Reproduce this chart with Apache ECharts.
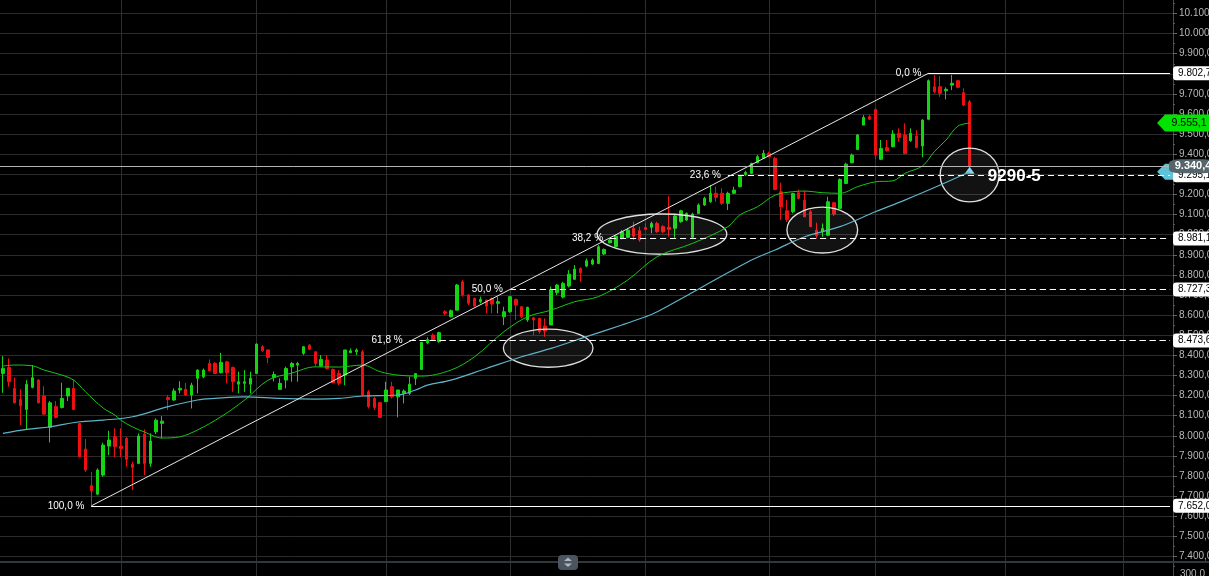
<!DOCTYPE html>
<html><head><meta charset="utf-8">
<script src="https://cdn.jsdelivr.net/npm/echarts/dist/echarts.min.js"></script>
<style>html,body{margin:0;padding:0;background:#000;overflow:hidden}#c{width:1209px;height:576px;}</style>
</head><body><div id="c"></div>
<script>
// ---------------- DATA ----------------
const slotCount = 199; // daily slots on the time axis (incl. empty future)
const categories = Array.from({length: slotCount}, (_, i) => 'D' + (i + 1));

// [open, close, low, high]
const ohlc = [
[8310,8335,8214,8396],[8340,8269,8244,8385],[8236,8164,8161,8290],[8181,8149,8053,8231],[8131,8256,8032,8277],
[8241,8289,8236,8352],[8277,8164,8161,8282],[8198,8108,8103,8247],[8042,8164,7967,8173],[8145,8092,8087,8173],
[8141,8186,8136,8264],[8198,8236,8173,8239],[8236,8131,8128,8280],[8062,7896,7893,8065],[7934,7830,7821,7984],
[7752,7727,7652,7821],[7710,7830,7705,7838],[7805,7954,7797,7966],[7949,7979,7904,8025],[7995,7946,7893,8037],
[7949,7937,7893,8037],[7987,7883,7846,7995],[7859,7843,7730,7871],[7863,7999,7859,8012],[8009,7863,7805,8032],
[7863,7974,7846,8012],[8020,8078,8009,8087],[8062,8073,7987,8098],[8191,8181,8128,8203],[8178,8223,8174,8236],
[8228,8236,8211,8272],[8231,8203,8198,8264],[8203,8252,8136,8264],[8286,8327,8211,8330],[8294,8327,8286,8335],
[8360,8324,8319,8380],[8360,8310,8307,8368],[8314,8365,8310,8413],[8368,8314,8261,8373],[8340,8269,8219,8344],
[8257,8269,8211,8319],[8261,8269,8219,8327],[8257,8286,8211,8319],[8310,8456,8310,8460],[8443,8423,8418,8451],
[8427,8390,8360,8430],[8290,8305,8270,8320],[8231,8261,8228,8286],[8277,8335,8236,8344],[8344,8360,8269,8368],
[8352,8360,8269,8368],[8410,8443,8402,8446],[8451,8430,8427,8456],[8418,8360,8344,8418],[8347,8380,8344,8402],
[8377,8335,8330,8402],[8330,8264,8261,8335],[8310,8261,8252,8327],[8302,8427,8252,8427],[8413,8423,8413,8435],
[8418,8427,8402,8435],[8418,8203,8194,8427],[8219,8145,8136,8228],[8186,8141,8128,8194],[8165,8092,8087,8170],
[8170,8228,8170,8269],[8244,8194,8186,8269],[8194,8228,8092,8228],[8211,8223,8161,8231],[8211,8257,8203,8294],
[8286,8310,8252,8310],[8330,8465,8327,8468],[8462,8478,8455,8490],[8501,8476,8473,8509],[8468,8513,8463,8518],
[8617,8609,8600,8625],[8592,8622,8589,8628],[8625,8750,8625,8755],[8766,8700,8692,8775],[8700,8659,8650,8705],
[8683,8645,8642,8688],[8667,8678,8659,8692],[8675,8645,8609,8678],[8683,8655,8609,8688],[8659,8667,8609,8692],
[8592,8617,8551,8642],[8617,8692,8612,8695],[8678,8650,8576,8683],[8642,8592,8584,8645],[8576,8639,8567,8642],
[8587,8576,8501,8592],[8584,8518,8509,8587],[8546,8521,8493,8584],[8551,8725,8551,8742],[8712,8750,8700,8755],
[8690,8758,8683,8766],[8745,8804,8738,8824],[8778,8829,8778,8849],[8832,8811,8766,8838],[8844,8871,8838,8882],
[8854,8874,8849,8882],[8857,8940,8854,8949],[8904,8927,8899,8932],[8960,8973,8957,8982],[8940,8993,8937,8998],
[8982,9015,8977,9023],[8987,9023,8982,9032],[9032,8993,8974,9065],[9020,8974,8965,9040],[9035,9027,9023,9056],
[9037,9056,9007,9065],[9056,9015,9010,9065],[9040,9015,9007,9048],[9037,9027,8990,9192],[9032,9093,8985,9098],
[9065,9119,9060,9124],[9073,9106,9068,9111],[8987,9103,8987,9109],[9106,9148,9103,9156],[9148,9181,9143,9189],
[9164,9206,9159,9247],[9206,9186,9164,9239],[9206,9156,9148,9231],[9156,9206,9123,9214],[9206,9222,9202,9239],
[9239,9289,9235,9297],[9300,9310,9292,9318],[9305,9355,9302,9358],[9358,9388,9355,9396],[9380,9405,9380,9421],
[9405,9388,9385,9413],[9380,9225,9222,9388],[9214,9139,9073,9259],[9119,9076,9064,9172],[9114,9205,9106,9209],
[9209,9181,9176,9225],[9172,9089,9089,9219],[9114,9040,9040,9123],[9023,8995,8982,9060],[9015,9031,8990,9056],
[8998,9164,8993,9189],[9159,9103,9093,9164],[9131,9275,9131,9280],[9255,9351,9252,9358],[9358,9396,9355,9404],
[9424,9496,9421,9501],[9545,9583,9545,9595],[9587,9574,9570,9595],[9623,9396,9375,9628],[9375,9429,9371,9471],
[9434,9418,9413,9471],[9438,9501,9434,9520],[9504,9484,9462,9529],[9496,9404,9401,9554],[9467,9504,9462,9529],
[9491,9434,9429,9520],[9441,9570,9385,9574],[9574,9766,9570,9772],[9736,9711,9703,9794],[9736,9703,9686,9789],
[9716,9723,9673,9733],[9744,9753,9719,9794],[9766,9733,9728,9769],[9706,9645,9640,9728],[9661,9340.4,9340.4,9670]
];

// moving averages read at sample slots: [slot, value]
const greenMA = [[0,8347],[2,8352],[5,8348],[7,8327],[10,8302],[12,8277],[14,8219],[17,8138],[19,8103],[20,8078],
[22,8044],[24,8019],[27,7989],[30,7995],[33,8029],[37,8095],[41,8178],[45,8277],[49,8312],[53,8343],[57,8342],
[61,8352],[64,8319],[67,8302],[71,8297],[76,8327],[80,8393],[85,8518],[89,8592],[93,8625],[97,8667],[101,8692],
[106,8775],[111,8891],[117,8957],[123,9040],[125,9098],[128,9139],[131,9197],[134,9214],[136,9217],[139,9209],
[142,9206],[145,9239],[148,9263],[151,9268],[153,9305],[156,9342],[158,9413],[160,9471],[162,9540],[164,9555.1]];
const blueMA = [[0,8012],[4,8032],[8,8045],[13,8070],[17,8078],[22,8095],[28,8145],[33,8178],[36,8186],[41,8194],
[47,8186],[53,8183],[57,8186],[61,8198],[67,8203],[70,8228],[72,8252],[76,8277],[82,8335],[88,8393],[93,8435],
[99,8493],[105,8551],[109,8592],[111,8617],[127,8874],[131,8924],[136,8990],[142,9040],[148,9114],[153,9172],
[159,9247],[164,9313]];

// y axis ticks
const yMin = 7300, yMax = 10200, yStep = 100;
// month separators (slot index)
const monthSlots = [20, 43, 65, 86, 109, 130, 148, 170, 190];
// fibonacci retracement anchors
const fibLow = {slot: 15, value: 7651.98};
const fibHigh = {slot: 157, value: 9802.69};
const fibRatios = [0, 0.236, 0.382, 0.5, 0.618, 1];
const fibNames = ['0,0 %', '23,6 %', '38,2 %', '50,0 %', '61,8 %', '100,0 %'];
const lastPrice = 9340.4;
const greenTag = 9555.1;
const blueTag = 9313;
const noteText = '9290-5';
const noteAt = {slot: 167, value: 9292};
const markerAt = {slot: 164, value: 9320};
// highlighted zones: centre slot, centre value, half width (slots), half height (value)
const zones = [
  {slot: 111.8, value: 9003, hw: 11.0, hh: 100},
  {slot: 139.0, value: 9023, hw: 6.0, hh: 114},
  {slot: 92.5, value: 8436, hw: 7.6, hh: 95},
  {slot: 164.0, value: 9297, hw: 5.0, hh: 134}
];
const volumeLabel = '300,0';

// ---------------- HELPERS ----------------
function fmt(v) {
  const s = (Math.round(v * 10) / 10).toFixed(1);
  const parts = s.split('.');
  return parts[0].replace(/\B(?=(\d{3})+(?!\d))/g, '.') + ',' + parts[1];
}
function sparse(pairs) {
  const arr = new Array(ohlc.length).fill(null);
  pairs.forEach(p => { arr[p[0]] = p[1]; });
  return arr;
}
const lastSlot = slotCount - 1;
const FONT = '"Liberation Sans", Arial, sans-serif';

// fib markLines
const fibLines = [];
fibRatios.forEach((r, k) => {
  const v = fibHigh.value - r * (fibHigh.value - fibLow.value);
  const start = Math.round(fibLow.slot + (1 - r) * (fibHigh.slot - fibLow.slot));
  const solid = (r === 0 || r === 1);
  const ls = {color: '#ffffff', width: 1, type: solid ? 'solid' : [6, 4], opacity: 1};
  fibLines.push([
    {coord: [start, v], lineStyle: ls,
     label: {show: true, position: 'start', distance: 7, formatter: fibNames[k], color: '#fff', fontSize: 10, fontFamily: FONT}},
    {coord: [lastSlot, v]}
  ]);
  fibLines.push([
    {coord: [start, v], lineStyle: ls,
     label: {show: true, position: 'end', distance: 3, formatter: fmt(v), color: '#000', fontSize: 10, fontFamily: FONT,
             backgroundColor: '#fff', borderRadius: 3, padding: [2, 8, 2, 5]}},
    {coord: [lastSlot, v]}
  ]);
});
fibLines.push([
  {coord: [fibLow.slot, fibLow.value], lineStyle: {color: '#e8e8e8', width: 1, type: 'solid'}, label: {show: false}},
  {coord: [fibHigh.slot, fibHigh.value]}
]);
fibLines.push({yAxis: lastPrice, lineStyle: {color: '#b4b4b4', width: 1, type: 'solid'}, label: {show: false}});

const tagPath = 'path://M0,8L8,0L52,0L52,16L8,16Z';

const chart = echarts.init(document.getElementById('c'), null, {renderer: 'canvas'});
chart.setOption({
  animation: false,
  backgroundColor: '#000',
  grid: {left: 0, right: 36, top: -6.6, height: 583.2, outerBoundsMode: 'none', containLabel: false},
  xAxis: {
    type: 'category', data: categories, boundaryGap: true,
    axisLine: {show: false}, axisTick: {show: false}, axisLabel: {show: false}, splitLine: {show: false}
  },
  yAxis: {
    type: 'value', position: 'right', min: yMin, max: yMax, interval: yStep, scale: true,
    axisLine: {show: true, lineStyle: {color: '#4a4a4a', width: 1}},
    axisTick: {show: true, length: 4, lineStyle: {color: '#666'}},
    minorTick: {show: true, splitNumber: 2, length: 2, lineStyle: {color: '#555'}},
    axisLabel: {show: true, color: '#b8b8b8', fontSize: 10, fontFamily: FONT, margin: 6,
      showMinLabel: false, showMaxLabel: false, formatter: v => fmt(v)},
    splitLine: {show: true, lineStyle: {color: '#2c2c2c', width: 1}}
  },
  series: [
    {
      name: 'MA fast', type: 'line', data: sparse(greenMA), connectNulls: true, smooth: 0.35,
      showSymbol: false, symbol: 'none', z: 3,
      lineStyle: {color: '#17c617', width: 1},
      markLine: {
        silent: true, symbol: ['none', 'none'], z: 1, animation: false,
        label: {show: false},
        lineStyle: {color: '#2e2e2e', width: 1, type: 'solid'},
        data: monthSlots.map(s => ({xAxis: s}))
      },
      markPoint: {
        z: 6, silent: true, animation: false,
        data: [{coord: [lastSlot, greenTag], symbol: tagPath, symbolSize: [52, 17], symbolOffset: [13, 0],
          symbolKeepAspect: false, itemStyle: {color: '#00e400'},
          label: {show: true, position: 'inside', formatter: fmt(greenTag), color: '#000', fontSize: 10.5,
            fontFamily: FONT, offset: [6, 0]}}]
      }
    },
    {
      name: 'MA slow', type: 'line', data: sparse(blueMA), connectNulls: true, smooth: 0.35,
      showSymbol: false, symbol: 'none', z: 3,
      lineStyle: {color: '#5fb3c9', width: 1.2},
      markPoint: {
        z: 3, silent: true, animation: false,
        data: [
          {coord: [lastSlot, blueTag], symbol: tagPath, symbolSize: [52, 16], symbolOffset: [13, 0],
            symbolKeepAspect: false, itemStyle: {color: '#5ec3d8'},
            label: {show: true, position: 'inside', formatter: fmt(blueTag), color: '#000', fontSize: 10, fontFamily: FONT, offset: [6, 0]}},
          {coord: [markerAt.slot, markerAt.value], symbol: 'triangle', symbolSize: [10, 7],
            itemStyle: {color: '#7fd3e6'}, label: {show: false}}
        ]
      }
    },
    {
      name: 'price', type: 'candlestick', data: ohlc, barWidth: 3, z: 2,
      itemStyle: {color: '#14d414', color0: '#ee1010', borderColor: '#14d414', borderColor0: '#ee1010', borderWidth: 1},
      markLine: {
        silent: true, symbol: ['none', 'none'], z: 4, animation: false,
        data: fibLines
      },
      markPoint: {
        z: 7, silent: true, animation: false,
        data: [
          {coord: [lastSlot, lastPrice], symbol: 'roundRect', symbolSize: [46, 14], symbolOffset: [22, 0],
            itemStyle: {color: '#56646c'},
            label: {show: true, position: 'inside', formatter: fmt(lastPrice), color: '#fff', fontSize: 11,
              fontWeight: 'bold', fontFamily: FONT, offset: [1, 0]}},
          {coord: [noteAt.slot, noteAt.value], symbol: 'rect', symbolSize: 1, itemStyle: {color: 'rgba(0,0,0,0)'},
            label: {show: true, position: 'right', distance: 0, formatter: noteText, color: '#fff', fontSize: 17,
              fontWeight: 'bold', fontFamily: FONT}}
        ]
      }
    }
  ]
});

// zone ellipses positioned through the axes
function slotToX(s) {
  const a = Math.floor(s), b = Math.ceil(s);
  const pa = chart.convertToPixel({xAxisIndex: 0, yAxisIndex: 0}, [a, yMin])[0];
  if (a === b) return pa;
  const pb = chart.convertToPixel({xAxisIndex: 0, yAxisIndex: 0}, [b, yMin])[0];
  return pa + (pb - pa) * (s - a);
}
function valToY(v) { return chart.convertToPixel({xAxisIndex: 0, yAxisIndex: 0}, [0, v])[1]; }
const slotW = slotToX(1) - slotToX(0);
const graphics = zones.map(z => ({
  type: 'ellipse', silent: true, z: 3,
  shape: {cx: slotToX(z.slot), cy: valToY(z.value), rx: z.hw * slotW, ry: Math.abs(valToY(z.value + z.hh) - valToY(z.value))},
  style: {fill: 'rgba(255,255,255,0.07)', stroke: 'rgba(235,235,235,0.95)', lineWidth: 1.3}
}));
// lower panel separator, volume scale label, and pane resize handle
const axisX = slotToX(lastSlot) + slotW / 2;
graphics.push({type: 'rect', silent: true, z: 10, shape: {x: 0, y: 561, width: 1209, height: 2}, style: {fill: '#2f363c'}});
graphics.push({type: 'text', silent: true, z: 10, x: axisX + 7, y: 569, style: {text: volumeLabel, fill: '#b8b8b8', font: '10px ' + FONT}});
graphics.push({type: 'rect', silent: true, z: 11, shape: {x: 558, y: 555, width: 20, height: 15, r: 4}, style: {fill: '#4a5561'}});
graphics.push({type: 'polygon', silent: true, z: 12, shape: {points: [[568, 557.5], [572, 561], [564, 561]]}, style: {fill: '#aeb7bf'}});
graphics.push({type: 'polygon', silent: true, z: 12, shape: {points: [[564, 563.5], [572, 563.5], [568, 567]]}, style: {fill: '#aeb7bf'}});
chart.setOption({graphic: graphics});
</script>
</body></html>
